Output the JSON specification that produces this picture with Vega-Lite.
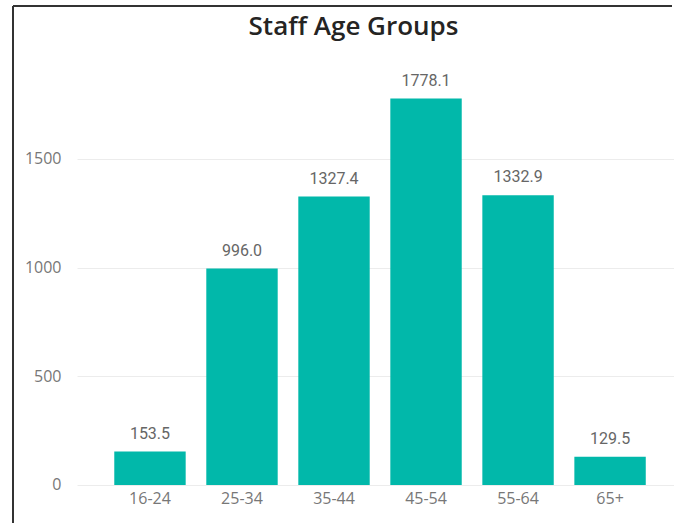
{
  "$schema": "https://vega.github.io/schema/vega-lite/v6.json",
  "width": 661,
  "height": 517,
  "autosize": {"type": "none"},
  "padding": {"left": 13, "top": 6, "right": 0, "bottom": 0},
  "background": "white",
  "title": {
    "text": "Staff Age Groups",
    "anchor": "middle",
    "frame": "group",
    "orient": "top",
    "offset": -55,
    "baseline": "alphabetic",
    "dx": 10,
    "font": "Open Sans",
    "fontSize": 26,
    "fontWeight": 600,
    "color": "#252423"
  },
  "data": {
    "values": [
      {"group": "16-24", "value": 153.5},
      {"group": "25-34", "value": 996.0},
      {"group": "35-44", "value": 1327.4},
      {"group": "45-54", "value": 1778.1},
      {"group": "55-64", "value": 1332.9},
      {"group": "65+", "value": 129.5}
    ]
  },
  "encoding": {
    "x": {
      "field": "group",
      "type": "nominal",
      "sort": null,
      "scale": {"range": [64, 661], "paddingInner": 0.224, "paddingOuter": 0.356, "align": 0.569},
      "axis": {
        "orient": "bottom",
        "offset": -38,
        "domain": false,
        "ticks": false,
        "tickSize": 0,
        "labelPadding": 5,
        "labelFont": "Open Sans",
        "labelFontSize": 16,
        "labelColor": "#777777",
        "labelAngle": 0,
        "title": null
      }
    },
    "y": {
      "field": "value",
      "type": "quantitative",
      "scale": {"domain": [-175, 2204], "nice": false},
      "axis": {
        "values": [0, 500, 1000, 1500],
        "format": "d",
        "domain": false,
        "ticks": false,
        "tickSize": 0,
        "labelPadding": -48,
        "labelFont": "Open Sans",
        "labelFontSize": 16,
        "labelColor": "#777777",
        "gridColor": "#ececec",
        "gridWidth": 1,
        "title": null
      }
    }
  },
  "layer": [
    {"mark": {"type": "bar", "color": "#01B8AA"}},
    {
      "mark": {"type": "text", "dy": -13, "baseline": "alphabetic", "font": "Roboto", "fontSize": 16, "color": "#666666"},
      "encoding": {"text": {"field": "value", "type": "quantitative", "format": ".1f"}}
    }
  ],
  "config": {
    "view": {"stroke": "#333333", "strokeWidth": 2, "strokeDash": [659, 1180, 517, 0]}
  }
}
